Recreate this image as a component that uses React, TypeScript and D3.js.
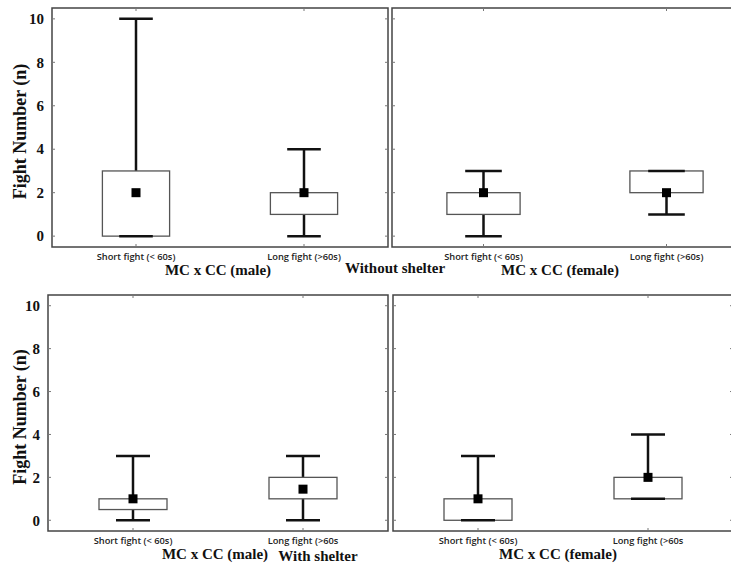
import React from 'react';
import * as d3 from 'd3';

// chart values
const topCategories = ['Short fight (< 60s)', 'Long fight (>60s)'];
const bottomCategories = ['Short fight (< 60s)', 'Long fight (>60s'];
const panelTitles = ['MC x CC (male)', 'MC x CC (female)', 'MC x CC (male)', 'MC x CC (female)'];
const groupLabels = ['Without shelter', 'With shelter'];
const yTicks = [0, 2, 4, 6, 8, 10];

// one row per panel, one value per category
const whiskerMin = [[0, 0], [0, 1], [0, 0], [0, 1]];
const boxLow = [[0, 1], [1, 2], [0.5, 1], [0, 1]];
const boxHigh = [[3, 2], [2, 3], [1, 2], [1, 2]];
const whiskerMax = [[10, 4], [3, 3], [3, 3], [3, 4]];
const means = [[2, 2], [2, 2], [1, 1.45], [1, 2]];

// panel frames (layout only)
const panels = [
  { x: 52, y: 8, w: 336, h: 239, titleX: 218, yLabels: true },
  { x: 392, y: 8, w: 366, h: 239, titleX: 560, yLabels: false },
  { x: 48, y: 295, w: 340, h: 236, titleX: 215, yLabels: true },
  { x: 393, y: 295, w: 340, h: 236, titleX: 558, yLabels: false },
];

const serif = '"Liberation Serif", "Times New Roman", serif';
const sans = '"Open Sans", "Noto Sans", sans-serif';

function Panel({ idx }: { idx: number }) {
  const p = panels[idx];
  const cats = idx < 2 ? topCategories : bottomCategories;
  const x = d3.scalePoint().domain(cats).range([0, p.w]).padding(0.5);
  const y = d3.scaleLinear().domain([-0.5, 10.5]).range([p.h, 0]);
  const boxW = p.w * 0.2;
  const capW = p.w * 0.1;
  const tick = 3;

  return (
    <g transform={`translate(${p.x},${p.y})`}>
      <rect x={0} y={0} width={p.w} height={p.h} fill="#fff" stroke="#444" strokeWidth={1.5} />
      {yTicks.map((t) => (
        <g key={'yt' + t}>
          <line x1={0} x2={tick} y1={y(t)} y2={y(t)} stroke="#777" strokeWidth={1} />
          <line x1={p.w - tick} x2={p.w} y1={y(t)} y2={y(t)} stroke="#777" strokeWidth={1} />
          {p.yLabels && (
            <text x={-8} y={y(t)} dy="0.35em" textAnchor="end" fontFamily={serif} fontWeight="bold" fontSize={15} fill="#111">
              {t}
            </text>
          )}
        </g>
      ))}
      {cats.map((c, i) => {
        const cx = x(c) as number;
        return (
          <g key={c}>
            <line x1={cx} x2={cx} y1={0} y2={tick} stroke="#777" strokeWidth={1} />
            <line x1={cx} x2={cx} y1={p.h - tick} y2={p.h} stroke="#777" strokeWidth={1} />
            <text x={cx} y={p.h + 12.5} textAnchor="middle" fontFamily={sans} fontWeight={600} fontSize={9.3} fill="#222">
              {c}
            </text>
            <line x1={cx} x2={cx} y1={y(whiskerMin[idx][i])} y2={y(whiskerMax[idx][i])} stroke="#111" strokeWidth={2.5} />
            <rect
              x={cx - boxW / 2}
              y={y(boxHigh[idx][i])}
              width={boxW}
              height={y(boxLow[idx][i]) - y(boxHigh[idx][i])}
              fill="#fff"
              stroke="#555"
              strokeWidth={1.3}
            />
            <line x1={cx - capW / 2} x2={cx + capW / 2} y1={y(whiskerMax[idx][i])} y2={y(whiskerMax[idx][i])} stroke="#111" strokeWidth={2.5} />
            <line x1={cx - capW / 2} x2={cx + capW / 2} y1={y(whiskerMin[idx][i])} y2={y(whiskerMin[idx][i])} stroke="#111" strokeWidth={2.5} />
            <rect x={cx - 4.5} y={y(means[idx][i]) - 4.5} width={9} height={9} fill="#000" />
          </g>
        );
      })}
      <text x={p.titleX - p.x} y={p.h + 28} textAnchor="middle" fontFamily={serif} fontWeight="bold" fontSize={15} fill="#111">
        {panelTitles[idx]}
      </text>
      {p.yLabels && (
        <text
          transform={`translate(${26 - p.x},${p.h / 2 + 4}) rotate(-90)`}
          textAnchor="middle"
          fontFamily={serif}
          fontWeight="bold"
          fontSize={18}
          fill="#111"
        >
          Fight Number (n)
        </text>
      )}
    </g>
  );
}

export default function App() {
  return (
    <svg width={731} height={567} style={{ position: 'absolute', left: 0, top: 0, display: 'block', background: '#fff' }}>
      {panels.map((_, i) => (
        <Panel key={i} idx={i} />
      ))}
      <text x={395} y={273} textAnchor="middle" fontFamily={serif} fontWeight="bold" fontSize={15} fill="#111">
        {groupLabels[0]}
      </text>
      <text x={318} y={561} textAnchor="middle" fontFamily={serif} fontWeight="bold" fontSize={15} fill="#111">
        {groupLabels[1]}
      </text>
    </svg>
  );
}
